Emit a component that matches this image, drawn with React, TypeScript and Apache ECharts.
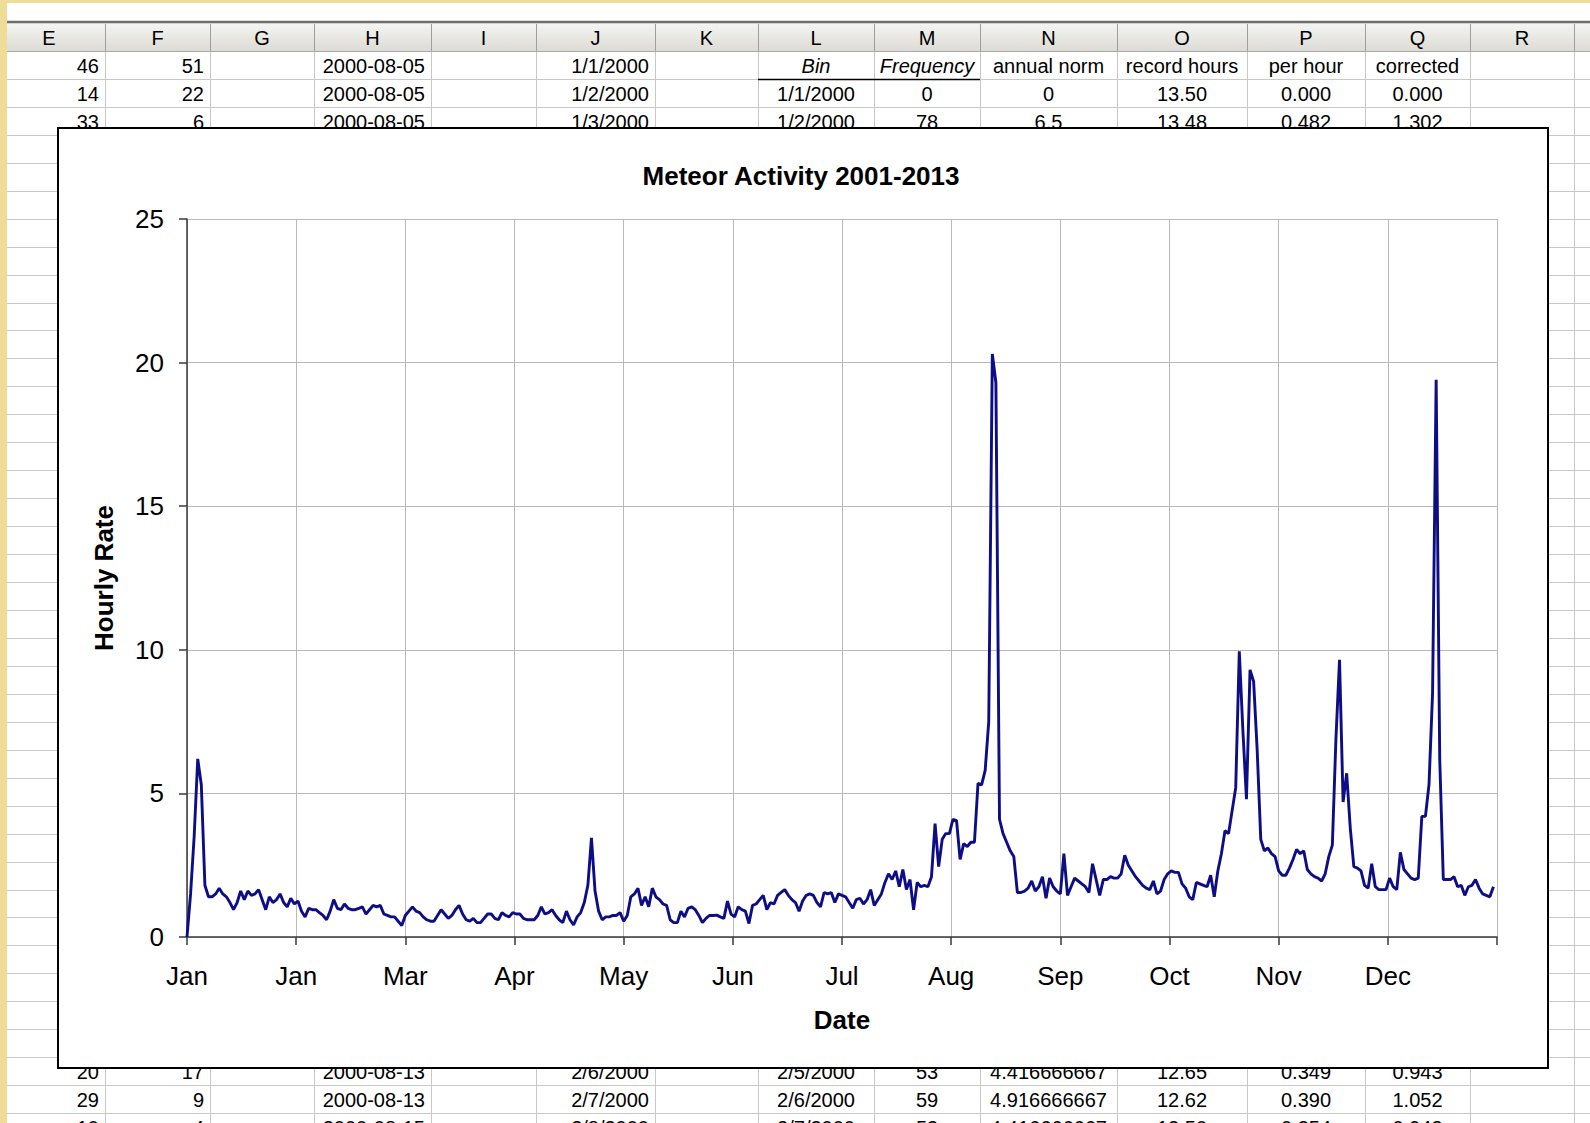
import React, { useEffect, useRef } from 'react';
import * as echarts from 'echarts';

// ---------- chart data (daily hourly rate, day 0 = Jan 1) ----------
const MONTH_LABELS = ['Jan', 'Jan', 'Mar', 'Apr', 'May', 'Jun', 'Jul', 'Aug', 'Sep', 'Oct', 'Nov', 'Dec'];
const Y_MIN = 0;
const Y_MAX = 25;
const Y_STEP = 5;
const X_MAX = 366;
const X_STEP = 30.5;

const rateDays000to047 = [
  0, 1.5, 3.5, 6.2, 5.3, 1.8, 1.4, 1.4, 1.5, 1.7,
  1.5, 1.4, 1.2, 0.95, 1.2, 1.6, 1.3, 1.6, 1.45, 1.5,
  1.65, 1.3, 0.95, 1.4, 1.2, 1.3, 1.5, 1.2, 1.05, 1.35,
  1.15, 1.25, 0.9, 0.7, 1.0, 0.95, 0.95, 0.85, 0.75, 0.6,
  0.9, 1.3, 1.0, 0.95, 1.15, 1.0, 0.95, 0.95,
];
const rateDays048to092 = [
  1.0, 1.05, 0.8, 0.95, 1.1, 1.05, 1.1, 0.8, 0.75, 0.7,
  0.7, 0.55, 0.4, 0.75, 0.9, 1.05, 0.9, 0.85, 0.7, 0.6,
  0.55, 0.55, 0.75, 0.95, 0.8, 0.65, 0.75, 0.95, 1.1, 0.8,
  0.6, 0.55, 0.65, 0.5, 0.5, 0.65, 0.8, 0.8, 0.65, 0.6,
  0.85, 0.75, 0.7, 0.85, 0.8,
];
const rateDays093to138 = [
  0.8, 0.65, 0.6, 0.6, 0.6, 0.75, 1.05, 0.8, 0.85, 0.95,
  0.75, 0.6, 0.5, 0.9, 0.6, 0.42, 0.7, 0.85, 1.2, 1.8,
  3.45, 1.6, 0.9, 0.6, 0.7, 0.7, 0.75, 0.75, 0.85, 0.55,
  0.75, 1.4, 1.5, 1.7, 1.1, 1.4, 1.05, 1.7, 1.4, 1.3,
  1.15, 1.1, 0.6, 0.5, 0.5, 0.9,
];
const rateDays139to185 = [
  0.7, 1.0, 1.05, 0.95, 0.75, 0.5, 0.65, 0.75, 0.75, 0.76,
  0.7, 0.65, 1.25, 0.8, 0.7, 1.05, 0.95, 0.9, 0.47, 1.1,
  1.15, 1.3, 1.45, 0.95, 1.2, 1.15, 1.45, 1.55, 1.65, 1.45,
  1.3, 1.2, 0.9, 1.25, 1.45, 1.5, 1.45, 1.2, 1.05, 1.55,
  1.5, 1.55, 1.2, 1.5, 1.45, 1.4, 1.2,
];
const rateDays186to227 = [
  1.0, 1.3, 1.35, 1.15, 1.3, 1.65, 1.1, 1.3, 1.5, 1.9,
  2.2, 2.0, 2.3, 1.75, 2.35, 1.65, 2.0, 0.95, 1.9, 1.75,
  1.8, 1.75, 2.1, 3.95, 2.45, 3.4, 3.6, 3.6, 4.1, 4.05,
  2.7, 3.25, 3.15, 3.3, 3.3, 5.35, 5.3, 5.8, 7.5, 20.3,
  19.3, 4.1,
];
const rateDays228to276 = [
  3.6, 3.3, 3.0, 2.8, 1.55, 1.55, 1.6, 1.7, 1.95, 1.6,
  1.75, 2.1, 1.35, 2.05, 1.75, 1.6, 1.5, 2.9, 1.45, 1.75,
  2.05, 1.95, 1.85, 1.75, 1.55, 2.55, 2.0, 1.45, 2.0, 2.0,
  2.1, 2.05, 2.05, 2.2, 2.85, 2.5, 2.3, 2.1, 1.95, 1.8,
  1.7, 1.65, 1.95, 1.5, 1.6, 2.0, 2.2, 2.3, 2.25,
];
const rateDays277to322 = [
  2.25, 1.85, 1.7, 1.4, 1.3, 1.9, 1.85, 1.8, 1.75, 2.15,
  1.4, 2.3, 2.9, 3.7, 3.6, 4.4, 5.2, 9.95, 7.2, 4.8,
  9.3, 8.9, 6.5, 3.4, 3.0, 3.1, 2.9, 2.8, 2.3, 2.15,
  2.15, 2.4, 2.7, 3.05, 2.9, 3.0, 2.35, 2.2, 2.1, 2.05,
  1.95, 2.2, 2.8, 3.2, 6.9, 9.65,
];
const rateDays323to365 = [
  4.7, 5.7, 3.8, 2.45, 2.4, 2.3, 1.8, 1.7, 2.55, 1.75,
  1.65, 1.65, 1.65, 2.05, 1.75, 1.65, 2.95, 2.35, 2.2, 2.05,
  2.0, 2.05, 4.2, 4.2, 5.3, 8.5, 19.4, 6.2, 2.0, 2.0,
  2.0, 2.1, 1.75, 1.8, 1.45, 1.75, 1.8, 2.0, 1.7, 1.5,
  1.45, 1.4, 1.75,
];

const hourlyRate = [
  ...rateDays000to047, ...rateDays048to092, ...rateDays093to138, ...rateDays139to185,
  ...rateDays186to227, ...rateDays228to276, ...rateDays277to322, ...rateDays323to365,
];

// ---------- spreadsheet backdrop content ----------
const COLUMN_LETTERS = ['E', 'F', 'G', 'H', 'I', 'J', 'K', 'L', 'M', 'N', 'O', 'P', 'Q', 'R'];
const COLUMN_EDGES = [-7, 105, 210, 314, 431, 536, 655, 758, 874, 980, 1117, 1247, 1365, 1470, 1574];
const COLUMN_ALIGN = ['right', 'right', 'right', 'right', 'right', 'right', 'right', 'center', 'center', 'center', 'center', 'center', 'center', 'center'];

const SHEET_TOP_ROWS = [
  ['46', '51', '', '2000-08-05', '', '1/1/2000', '', 'Bin', 'Frequency', 'annual norm', 'record hours', 'per hour', 'corrected', ''],
  ['14', '22', '', '2000-08-05', '', '1/2/2000', '', '1/1/2000', '0', '0', '13.50', '0.000', '0.000', ''],
  ['33', '6', '', '2000-08-05', '', '1/3/2000', '', '1/2/2000', '78', '6.5', '13.48', '0.482', '1.302', ''],
];
const SHEET_BOTTOM_ROWS = [
  ['20', '17', '', '2000-08-13', '', '2/6/2000', '', '2/5/2000', '53', '4.416666667', '12.65', '0.349', '0.943', ''],
  ['29', '9', '', '2000-08-13', '', '2/7/2000', '', '2/6/2000', '59', '4.916666667', '12.62', '0.390', '1.052', ''],
  ['10', '4', '', '2000-08-15', '', '2/8/2000', '', '2/7/2000', '53', '4.416666667', '12.50', '0.354', '0.943', ''],
];

const W = 1590;
const H = 1123;
const HEADER_TOP = 22;
const HEADER_BOTTOM = 51;
const ROW_H = 27.95;
const SHEET_FONT = '20px "Liberation Sans", Arial, sans-serif';

function textEl(text: string, x: number, y: number, font: string, align: string, z = 0, extra: any = {}) {
  return {
    type: 'text',
    x,
    y,
    z,
    silent: true,
    ...extra,
    style: {
      text,
      fill: '#000',
      font,
      align,
      textAlign: align,
      verticalAlign: 'middle',
      textVerticalAlign: 'middle',
    },
  };
}

function buildSheet() {
  const els: any[] = [];
  els.push({ type: 'rect', z: 0, silent: true, shape: { x: 0, y: 0, width: W, height: H }, style: { fill: '#ffffff' } });
  // row lines
  for (let y = HEADER_BOTTOM + ROW_H; y < H; y += ROW_H) {
    const yy = Math.round(y) + 0.5;
    els.push({ type: 'line', z: 0, silent: true, shape: { x1: 7, y1: yy, x2: W, y2: yy }, style: { stroke: '#c8c8c8', lineWidth: 1 } });
  }
  // column lines
  COLUMN_EDGES.slice(1).forEach((x) => {
    els.push({ type: 'line', z: 0, silent: true, shape: { x1: x + 0.5, y1: HEADER_BOTTOM, x2: x + 0.5, y2: H }, style: { stroke: '#c8c8c8', lineWidth: 1 } });
  });
  // header row
  els.push({
    type: 'rect', z: 0, silent: true,
    shape: { x: 7, y: HEADER_TOP, width: W - 7, height: HEADER_BOTTOM - HEADER_TOP },
    style: {
      fill: new echarts.graphic.LinearGradient(0, 0, 0, 1, [
        { offset: 0, color: '#f6f6f3' },
        { offset: 1, color: '#dcdbd5' },
      ]),
    },
  });
  els.push({ type: 'line', z: 0, silent: true, shape: { x1: 7, y1: HEADER_TOP, x2: W, y2: HEADER_TOP }, style: { stroke: '#6e6e6e', lineWidth: 2.5 } });
  els.push({ type: 'line', z: 0, silent: true, shape: { x1: 7, y1: HEADER_BOTTOM + 0.5, x2: W, y2: HEADER_BOTTOM + 0.5 }, style: { stroke: '#a8a8a8', lineWidth: 1 } });
  COLUMN_EDGES.slice(1).forEach((x) => {
    els.push({ type: 'line', z: 0, silent: true, shape: { x1: x + 0.5, y1: HEADER_TOP + 2, x2: x + 0.5, y2: HEADER_BOTTOM }, style: { stroke: '#9e9e9e', lineWidth: 1 } });
  });
  COLUMN_LETTERS.forEach((c, i) => {
    const cx = (COLUMN_EDGES[i] + (COLUMN_EDGES[i + 1] ?? W)) / 2;
    els.push(textEl(c, cx, (HEADER_TOP + HEADER_BOTTOM) / 2 + 1, SHEET_FONT, 'center'));
  });
  // cells
  const addRow = (cells: string[], rowIndex: number, italicCols: number[] = []) => {
    const cy = HEADER_BOTTOM + ROW_H * (rowIndex - 0.5) + 1;
    cells.forEach((t, i) => {
      if (!t) return;
      const left = COLUMN_EDGES[i];
      const right = COLUMN_EDGES[i + 1] ?? W;
      const align = COLUMN_ALIGN[i];
      const x = align === 'right' ? right - 6 : (left + right) / 2;
      const font = italicCols.includes(i) ? 'italic ' + SHEET_FONT : SHEET_FONT;
      els.push(textEl(t, x, cy, font, align));
    });
  };
  addRow(SHEET_TOP_ROWS[0], 1, [7, 8]);
  addRow(SHEET_TOP_ROWS[1], 2);
  addRow(SHEET_TOP_ROWS[2], 3);
  addRow(SHEET_BOTTOM_ROWS[0], 37);
  addRow(SHEET_BOTTOM_ROWS[1], 38);
  addRow(SHEET_BOTTOM_ROWS[2], 39);
  // border under Bin / Frequency
  els.push({ type: 'line', z: 0, silent: true, shape: { x1: 758, y1: 79.5, x2: 980, y2: 79.5 }, style: { stroke: '#000', lineWidth: 1.5 } });
  // beige window frame
  els.push({ type: 'rect', z: 0, silent: true, shape: { x: 0, y: 0, width: 7, height: H }, style: { fill: '#eedc97' } });
  els.push({ type: 'rect', z: 0, silent: true, shape: { x: 0, y: 0, width: W, height: 3 }, style: { fill: '#eedc97' } });
  // chart area box
  els.push({ type: 'rect', z: 0, silent: true, shape: { x: 58, y: 128, width: 1490, height: 940 }, style: { fill: '#ffffff', stroke: '#000', lineWidth: 2 } });
  // chart title
  els.push(textEl('Meteor Activity 2001-2013', 801, 176, 'bold 26px "Liberation Sans", Arial, sans-serif', 'center', 1));
  return els;
}

const AXIS_FONT = 'Liberation Sans';

export default function App() {
  const ref = useRef<HTMLDivElement>(null);
  useEffect(() => {
    document.body.style.margin = '0';
    const chart = echarts.init(ref.current as HTMLDivElement, null, { renderer: 'svg' });
    const seriesData = hourlyRate.map((v, i) => [i, v]);
    chart.setOption({
      animation: false,
      backgroundColor: '#ffffff',
      graphic: { elements: buildSheet() },
      grid: { left: 187, top: 219, width: 1310, height: 718, containLabel: false, z: 5 },
      xAxis: {
        type: 'value',
        min: 0,
        max: X_MAX,
        interval: X_STEP,
        z: 5,
        name: 'Date',
        nameLocation: 'middle',
        nameGap: 70,
        nameTextStyle: { fontFamily: AXIS_FONT, fontWeight: 'bold', fontSize: 26, color: '#000' },
        axisLine: { show: true, lineStyle: { color: '#3a3a3a', width: 1.5 } },
        axisTick: { show: true, inside: false, length: 8, lineStyle: { color: '#3a3a3a', width: 1.5 } },
        axisLabel: {
          margin: 26,
          fontFamily: AXIS_FONT,
          fontSize: 26,
          color: '#000',
          formatter: (v: number) => MONTH_LABELS[Math.round(v / X_STEP)] ?? '',
        },
        splitLine: { show: true, lineStyle: { color: '#b9b9b9', width: 1 } },
      },
      yAxis: {
        type: 'value',
        min: Y_MIN,
        max: Y_MAX,
        interval: Y_STEP,
        z: 5,
        name: 'Hourly Rate',
        nameLocation: 'middle',
        nameGap: 70,
        nameTextStyle: { fontFamily: AXIS_FONT, fontWeight: 'bold', fontSize: 26, color: '#000' },
        axisLine: { show: true, lineStyle: { color: '#3a3a3a', width: 1.5 } },
        axisTick: { show: true, inside: false, length: 8, lineStyle: { color: '#3a3a3a', width: 1.5 } },
        axisLabel: { margin: 23, fontFamily: AXIS_FONT, fontSize: 26, color: '#000' },
        splitLine: { show: true, lineStyle: { color: '#b9b9b9', width: 1 } },
      },
      series: [
        {
          type: 'line',
          name: 'Hourly Rate',
          data: seriesData,
          z: 6,
          showSymbol: false,
          symbol: 'none',
          smooth: false,
          lineStyle: { color: '#0d0d86', width: 2.9 },
          itemStyle: { color: '#0d0d86' },
        },
      ],
    });
    return () => chart.dispose();
  }, []);
  return <div ref={ref} style={{ position: 'absolute', left: 0, top: 0, width: W, height: H }} />;
}
